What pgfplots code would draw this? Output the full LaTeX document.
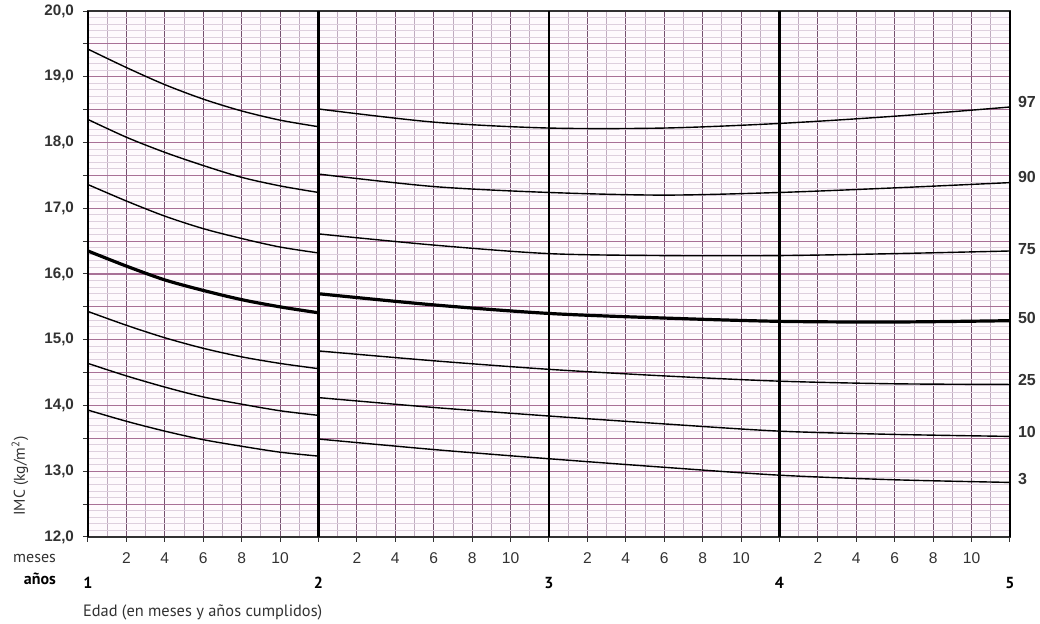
\documentclass[border=0pt]{standalone}
\usepackage{pgfplots}
\pgfplotsset{compat=1.18}
\usepackage{fontspec}
\setmainfont{Liberation Sans}
\newfontfamily\myriad{PT Sans}

\definecolor{gminor}{RGB}{222,208,222}
\definecolor{gmonth}{RGB}{192,172,192}
\definecolor{gmajor}{RGB}{118,82,112}
\definecolor{ghalf}{RGB}{168,112,150}
\definecolor{tickc}{RGB}{50,50,50}
\definecolor{bgpink}{RGB}{254,250,253}

\begin{document}
\begin{tikzpicture}[x=1pt,y=1pt]
\path[use as bounding box] (-44,-43.5) rectangle (476,268.5);
\begin{axis}[
  at={(0,0)}, anchor=south west,
  scale only axis, width=461pt, height=263pt,
  xmin=12, xmax=60, ymin=12, ymax=20,
  clip=false,
  axis background/.style={fill=bgpink},
  axis line style={draw=tickc, line width=0.6pt},
  xtick={14,16,18,20,22,26,28,30,32,34,38,40,42,44,46,50,52,54,56,58},
  xticklabels={2,4,6,8,10,2,4,6,8,10,2,4,6,8,10,2,4,6,8,10},
  minor xtick={13,15,17,19,21,23,25,27,29,31,33,35,37,39,41,43,45,47,49,51,53,55,57,59},
  ytick={12,12.5,13,13.5,14,14.5,15,15.5,16,16.5,17,17.5,18,18.5,19,19.5,20},
  yticklabels={{12,0},,{13,0},,{14,0},,{15,0},,{16,0},,{17,0},,{18,0},,{19,0},,{20,0}},
  minor y tick num=4,
  grid=both,
  major x grid style={draw=gmajor, line width=0.55pt},
  minor x grid style={draw=gmonth, line width=0.45pt},
  major y grid style={draw=ghalf, line width=0.6pt},
  minor y grid style={draw=gminor, line width=0.45pt},
  tick align=outside, tick pos=left,
  major tick length=2.5pt, minor tick length=0pt,
  tick style={draw=tickc, line width=0.5pt},
  xticklabel style={font=\fontsize{7.8}{9}\selectfont, text=tickc, yshift=-2pt},
  yticklabel style={font=\fontsize{7.6}{9}\selectfont\bfseries, text=tickc, xshift=-1pt},
  extra x ticks={12,24,36,48,60},
  extra x tick labels={1,2,3,4,5},
  extra x tick style={
    grid=major,
    major x grid style={draw=black, line width=1.2pt},
    major tick length=2.5pt,
    xticklabel style={font=\myriad\fontsize{8}{9}\selectfont\bfseries, text=black, yshift=-12pt}
  },
]
% ---- first year (1 to 2 years)
\addplot[black, line width=0.7pt, smooth] coordinates {(12,19.42) (14,19.14) (16,18.88) (18,18.66) (20,18.48) (22,18.34) (24,18.24)};
\addplot[black, line width=0.7pt, smooth] coordinates {(12,18.35) (14,18.08) (16,17.85) (18,17.65) (20,17.47) (22,17.34) (24,17.24)};
\addplot[black, line width=0.7pt, smooth] coordinates {(12,17.36) (14,17.11) (16,16.88) (18,16.69) (20,16.54) (22,16.41) (24,16.32)};
\addplot[black, line width=1.6pt, smooth] coordinates {(12,16.35) (14,16.12) (16,15.91) (18,15.75) (20,15.61) (22,15.50) (24,15.41)};
\addplot[black, line width=0.7pt, smooth] coordinates {(12,15.43) (14,15.22) (16,15.03) (18,14.87) (20,14.74) (22,14.64) (24,14.56)};
\addplot[black, line width=0.7pt, smooth] coordinates {(12,14.64) (14,14.45) (16,14.28) (18,14.13) (20,14.02) (22,13.92) (24,13.85)};
\addplot[black, line width=0.7pt, smooth] coordinates {(12,13.93) (14,13.76) (16,13.61) (18,13.48) (20,13.38) (22,13.29) (24,13.23)};
% ---- 2 to 5 years
\addplot[black, line width=0.7pt, smooth] coordinates {(24,18.51) (30,18.31) (36,18.22) (42,18.22) (48,18.29) (54,18.40) (60,18.54)};
\addplot[black, line width=0.7pt, smooth] coordinates {(24,17.52) (30,17.33) (36,17.24) (42,17.20) (48,17.24) (54,17.31) (60,17.39)};
\addplot[black, line width=0.7pt, smooth] coordinates {(24,16.61) (30,16.44) (36,16.31) (42,16.28) (48,16.28) (54,16.31) (60,16.35)};
\addplot[black, line width=1.6pt, smooth] coordinates {(24,15.70) (30,15.53) (36,15.40) (42,15.33) (48,15.28) (54,15.27) (60,15.29)};
\addplot[black, line width=0.7pt, smooth] coordinates {(24,14.83) (30,14.68) (36,14.55) (42,14.45) (48,14.37) (54,14.33) (60,14.32)};
\addplot[black, line width=0.7pt, smooth] coordinates {(24,14.12) (30,13.97) (36,13.84) (42,13.72) (48,13.61) (54,13.56) (60,13.53)};
\addplot[black, line width=0.7pt, smooth] coordinates {(24,13.49) (30,13.33) (36,13.19) (42,13.06) (48,12.94) (54,12.87) (60,12.83)};
% ---- percentile labels
\begin{scope}[every node/.style={anchor=west, font=\fontsize{8}{9}\selectfont\bfseries, text=tickc, xshift=0.5pt}]
\node at (axis cs:60,18.62) {97};
\node at (axis cs:60,17.47) {90};
\node at (axis cs:60,16.38) {75};
\node at (axis cs:60,15.33) {50};
\node at (axis cs:60,14.39) {25};
\node at (axis cs:60,13.59) {10};
\node at (axis cs:60,12.88) {3};
\end{scope}
% ---- axis texts
\node[anchor=east, font=\myriad\fontsize{8}{9}\selectfont, text=tickc] at ([xshift=-12.5pt, yshift=-11pt]axis cs:12,12) {meses};
\node[anchor=east, font=\myriad\fontsize{8}{9}\selectfont\bfseries, text=black] at ([xshift=-12.5pt, yshift=-21pt]axis cs:12,12) {años};
\node[anchor=west, font=\myriad\fontsize{8.2}{9}\selectfont, text=tickc] at ([xshift=-6pt, yshift=-37.5pt]axis cs:12,12) {Edad (en meses y años cumplidos)};
\node[rotate=90, font=\myriad\fontsize{7.8}{9}\selectfont, text=tickc] at ([xshift=-34pt, yshift=30.5pt]axis cs:12,12) {IMC (kg/m\textsuperscript{2})};
\end{axis}
\end{tikzpicture}
\end{document}
